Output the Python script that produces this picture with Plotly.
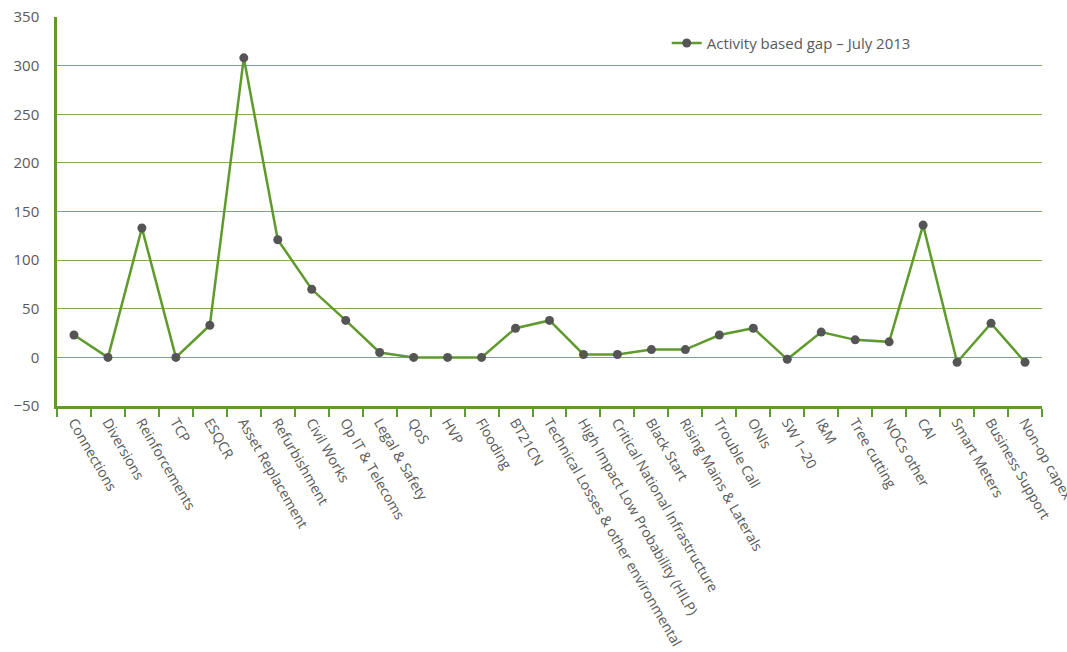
import plotly.graph_objects as go

categories = [
    "Connections", "Diversions", "Reinforcements", "TCP", "ESQCR",
    "Asset Replacement", "Refurbishment", "Civil Works", "Op IT & Telecoms",
    "Legal & Safety", "QoS", "HVP", "Flooding", "BT21CN",
    "Technical Losses & other environmental",
    "High Impact Low Probability (HILP)", "Critical National Infrastructure",
    "Black Start", "Rising Mains & Laterals", "Trouble Call", "ONIs",
    "SW 1\u201320", "I&M", "Tree cutting", "NOCs other", "CAI",
    "Smart Meters", "Business Support", "Non-op capex",
]
gap_values = [
    23, 0, 133, 0, 33,
    308, 121, 70, 38,
    5, 0, 0, 0, 30,
    38,
    3, 3,
    8, 8, 23, 30,
    -2, 26, 18, 16, 136,
    -5, 35, -5,
]
y_ticks = [-50, 0, 50, 100, 150, 200, 250, 300, 350]

GREEN = "#5e9a2c"
GRID = "#7fae52"
TEXT = "#595959"

fig = go.Figure()
fig.add_trace(go.Scatter(
    x=categories,
    y=gap_values,
    mode="lines+markers",
    name="Activity based gap \u2013 July 2013",
    line=dict(color=GREEN, width=2.5),
    marker=dict(color="#555555", size=9),
))

fig.update_layout(
    width=1067,
    height=652,
    margin=dict(l=57, r=25, t=17, b=246),
    paper_bgcolor="white",
    plot_bgcolor="white",
    font=dict(family="Open Sans", size=14, color=TEXT),
    showlegend=True,
    legend=dict(
        x=0.619, y=0.975, xanchor="left", yanchor="top",
        bgcolor="rgba(0,0,0,0)", font=dict(size=15, color=TEXT),
    ),
    xaxis=dict(
        type="category",
        range=[-0.5, len(categories) - 0.5],
        tickson="boundaries",
        ticks="outside",
        ticklen=8,
        tickwidth=2,
        tickcolor=GREEN,
        showline=True,
        linecolor=GREEN,
        linewidth=2.5,
        showgrid=False,
        tickangle=60,
        automargin=False,
        tickfont=dict(size=14, color=TEXT),
    ),
    yaxis=dict(
        range=[-50, 350],
        tickvals=y_ticks,
        showline=True,
        linecolor=GREEN,
        linewidth=2.5,
        showgrid=True,
        gridcolor=GRID,
        gridwidth=1,
        zeroline=False,
        ticks="",
        automargin=False,
        tickfont=dict(size=15, color=TEXT),
        ticklabelstandoff=12,
    ),
)

fig.write_html("out.html")
